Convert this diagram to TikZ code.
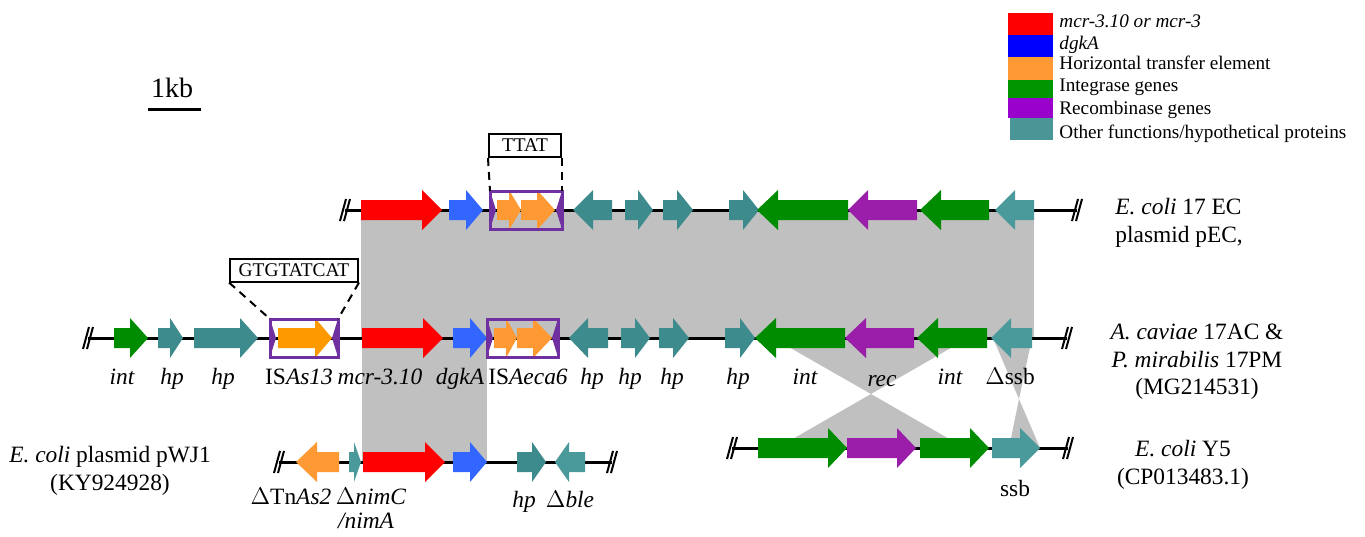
\documentclass[tikz,border=0pt]{standalone}
\usepackage{fontspec}
\setmainfont{Liberation Serif}
\definecolor{gred}{RGB}{255,0,0}
\definecolor{gblue}{RGB}{51,102,255}
\definecolor{gorange}{RGB}{255,153,51}
\definecolor{gorangeb}{RGB}{255,153,0}
\definecolor{ggreen}{RGB}{0,140,0}
\definecolor{gpurple}{RGB}{155,30,170}
\definecolor{gteal}{RGB}{62,139,142}
\definecolor{gtealL}{RGB}{74,154,156}
\definecolor{isframe}{RGB}{112,48,160}
\definecolor{homgray}{RGB}{192,192,192}
\definecolor{lblue}{RGB}{0,0,255}
\definecolor{lgreen}{RGB}{0,150,0}
\definecolor{lpurple}{RGB}{153,0,204}
\definecolor{lteal}{RGB}{74,150,150}
% right-pointing gene: x1 x2 y headstart colour
\newcommand\geneR[5]{\fill[#5] (#1,{#3-10}) -- (#4,{#3-10}) -- (#4,{#3-20}) -- (#2,#3) -- (#4,{#3+20}) -- (#4,{#3+10}) -- (#1,{#3+10}) -- cycle;}
% left-pointing gene: tip tail y headend colour
\newcommand\geneL[5]{\fill[#5] (#2,{#3-10}) -- (#4,{#3-10}) -- (#4,{#3-20}) -- (#1,#3) -- (#4,{#3+20}) -- (#4,{#3+10}) -- (#2,{#3+10}) -- cycle;}
% break mark
\newcommand\brkmark[2]{\draw[line width=1pt] ({#1-5},{#2+11}) -- ({#1+1},{#2-11}) ({#1-1},{#2+11}) -- ({#1+5},{#2-11});}
\newcommand\iswedges[1]{\fill[isframe] (#1.north west) -- ([xshift=3pt]#1.west) -- (#1.south west) -- cycle;
  \fill[isframe] (#1.north east) -- ([xshift=-3pt]#1.east) -- (#1.south east) -- cycle;}
\begin{document}
\begin{tikzpicture}[x=0.5pt,y=-0.5pt,
  lbl/.style={font=\fontsize{11.7}{14}\selectfont, anchor=base, inner sep=0pt},
  lgd/.style={font=\fontsize{9.6}{11}\selectfont, anchor=base west, inner sep=0pt},
  seqbox/.style={draw, line width=1pt, font=\fontsize{9.7}{11}\selectfont, inner sep=0pt, minimum height=11.5pt},
  isbox/.style={draw=isframe, line width=1.5pt, inner sep=0pt, outer sep=0pt, minimum height=19pt},
  backbone/.style={line width=1.5pt},
  site/.style={line width=1pt, dash pattern=on 4pt off 3pt}]
\useasboundingbox (0,0) rectangle (1365,536);

% homology shading
\fill[homgray] (361,210) rectangle (1034,338);
\fill[homgray] (362,338) rectangle (487,462);
\fill[homgray] (773,338) -- (968,338) -- (871,394) -- cycle;
\fill[homgray] (871,394) -- (777,448) -- (965,448) -- cycle;
\fill[homgray] (993,338) -- (1032,338) -- (1019,399) -- cycle;
\fill[homgray] (1019,399) -- (1009,448) -- (1040,448) -- cycle;

% backbones
\draw[backbone] (345,210) -- (1077,210);
\draw[backbone] (88,338) -- (1067,338);
\draw[backbone] (279,462) -- (612,462);
\draw[backbone] (732,448) -- (1068,448);
\brkmark{345}{210}\brkmark{1077}{210}
\brkmark{88}{338}\brkmark{1067}{338}
\brkmark{279}{462}\brkmark{612}{462}
\brkmark{732}{448}\brkmark{1068}{448}

% scale bar
\node[lbl, font=\fontsize{14}{16}\selectfont] (kb) at (172,97) {1kb};
\draw[line width=1.5pt] (148,109) -- (201,109);

% ---- top track (y=210)
\geneR{361}{442}{210}{422}{gred}
\geneR{449}{483}{210}{466}{gblue}
\geneR{497}{521}{210}{509}{gorange}
\geneR{521}{555}{210}{537}{gorange}
\geneL{573}{612}{210}{593}{gteal}
\geneR{625}{653}{210}{638}{gteal}
\geneR{663}{693}{210}{677}{gteal}
\geneR{729}{759}{210}{743}{gteal}
\geneL{757}{848}{210}{778}{ggreen}
\geneL{848}{917}{210}{868}{gpurple}
\geneL{920}{989}{210}{941}{ggreen}
\geneL{995}{1034}{210}{1015}{gtealL}
\node[isbox, minimum width=36pt] (is1) at (526,210) {};
\iswedges{is1}

% ---- middle track (y=338)
\geneR{114}{148}{338}{130}{ggreen}
\geneR{158}{183}{338}{170}{gteal}
\geneR{194}{258}{338}{240}{gteal}
\geneR{278}{332}{338}{315}{gorangeb}
\geneR{362}{443}{338}{423}{gred}
\geneR{453}{487}{338}{470}{gblue}
\geneR{494}{517}{338}{506}{gorange}
\geneR{517}{552}{338}{533}{gorange}
\geneL{569}{608}{338}{588}{gteal}
\geneR{621}{650}{338}{635}{gteal}
\geneR{659}{689}{338}{673}{gteal}
\geneR{725}{755}{338}{740}{gteal}
\geneL{755}{845}{338}{776}{ggreen}
\geneL{845}{914}{338}{866}{gpurple}
\geneL{917}{987}{338}{938}{ggreen}
\geneL{991}{1032}{338}{1011}{gtealL}
\node[isbox, minimum width=34pt] (is2) at (304,338) {};
\iswedges{is2}
\node[isbox, minimum width=35.5pt] (is3) at (522.5,338) {};
\iswedges{is3}

% ---- bottom-left track (y=462)
\geneL{296}{339}{462}{317}{gorange}
\fill[gtealL] (349,452) -- (354,452) -- (354,442) -- (361,462) -- (354,482) -- (354,472) -- (349,472) -- cycle;
\geneR{363}{445}{462}{425}{gred}
\geneR{453}{487}{462}{470}{gblue}
\geneR{517}{546}{462}{532}{gteal}
\geneL{555}{585}{462}{569}{gtealL}

% ---- bottom-right track (y=448)
\geneR{758}{847}{448}{828}{ggreen}
\geneR{847}{916}{448}{897}{gpurple}
\geneR{920}{989}{448}{970}{ggreen}
\geneR{992}{1040}{448}{1020}{gtealL}

% target site boxes
\node[seqbox, minimum width=36pt] (ttat) at (525,145.5) {TTAT};
\draw[site] (ttat.south west) -- (is1.north west);
\draw[site] (ttat.south east) -- (is1.north east);
\node[seqbox, minimum width=64pt] (gtg) at (294,270) {GTGTATCAT};
\draw[site] (gtg.south west) -- (is2.north west);
\draw[site] (gtg.south east) -- (is2.north east);

% middle track labels
\node[lbl] (l1) at (122,384) {\itshape int};
\node[lbl] (l2) at (172,384) {\itshape hp};
\node[lbl] (l3) at (223,384) {\itshape hp};
\node[lbl] (l4) at (299,384) {IS\textit{As13}};
\node[lbl] (l5) at (380,384) {\itshape mcr-3.10};
\node[lbl] (l6) at (460,384) {\itshape dgkA};
\node[lbl] (l7) at (528,384) {IS\textit{Aeca6}};
\node[lbl] (l8) at (592,384) {\itshape hp};
\node[lbl] (l9) at (630,384) {\itshape hp};
\node[lbl] (l10) at (672,384) {\itshape hp};
\node[lbl] (l11) at (738,384) {\itshape hp};
\node[lbl] (l12) at (805,384) {\itshape int};
\node[lbl] (l13) at (882,386) {\itshape rec};
\node[lbl] (l14) at (950,384) {\itshape int};
\node[lbl] (l15) at (1010,384) {$\Delta$ssb};

% bottom-left labels
\node[lbl] (b1) at (291,504) {$\Delta$Tn\textit{As2}};
\node[lbl] (b2) at (371,504) {$\Delta$\textit{nimC}};
\node[lbl] (b3) at (366,528) {\itshape /nimA};
\node[lbl] (b4) at (524,507) {\itshape hp};
\node[lbl] (b5) at (570,507) {$\Delta$\textit{ble}};
\node[lbl] (b6) at (1015,496) {ssb};

% strain labels
\node[lbl, anchor=base west] (s1) at (1115,214) {\textit{E. coli} 17 EC};
\node[lbl, anchor=base west] (s2) at (1115,242) {plasmid pEC,};
\node[lbl] (s3) at (1197,339) {\textit{A. caviae} 17AC \&};
\node[lbl] (s4) at (1197,367) {\textit{P. mirabilis} 17PM};
\node[lbl] (s5) at (1197,394) {(MG214531)};
\node[lbl] (s6) at (1183,456) {\textit{E. coli} Y5};
\node[lbl] (s7) at (1183,484) {(CP013483.1)};
\node[lbl] (s8) at (110,462) {\textit{E. coli} plasmid pWJ1};
\node[lbl] (s9) at (110,490) {(KY924928)};

% legend
\fill[gred] (1008,13) rectangle (1053,35);
\fill[lblue] (1008,35) rectangle (1053,57);
\fill[gorange] (1008,57) rectangle (1053,80);
\fill[lgreen] (1008,80) rectangle (1053,98);
\fill[lpurple] (1008,98) rectangle (1053,118);
\fill[lteal] (1010,118) rectangle (1053,140);
\node[lgd] (g1) at (1059,27) {\itshape mcr-3.10 or mcr-3};
\node[lgd] (g2) at (1059,49) {\itshape dgkA};
\node[lgd] (g3) at (1059,69) {Horizontal transfer element};
\node[lgd] (g4) at (1059,91) {Integrase genes};
\node[lgd] (g5) at (1059,114) {Recombinase genes};
\node[lgd] (g6) at (1059,138) {Other functions/hypothetical proteins};
\end{tikzpicture}
\end{document}
